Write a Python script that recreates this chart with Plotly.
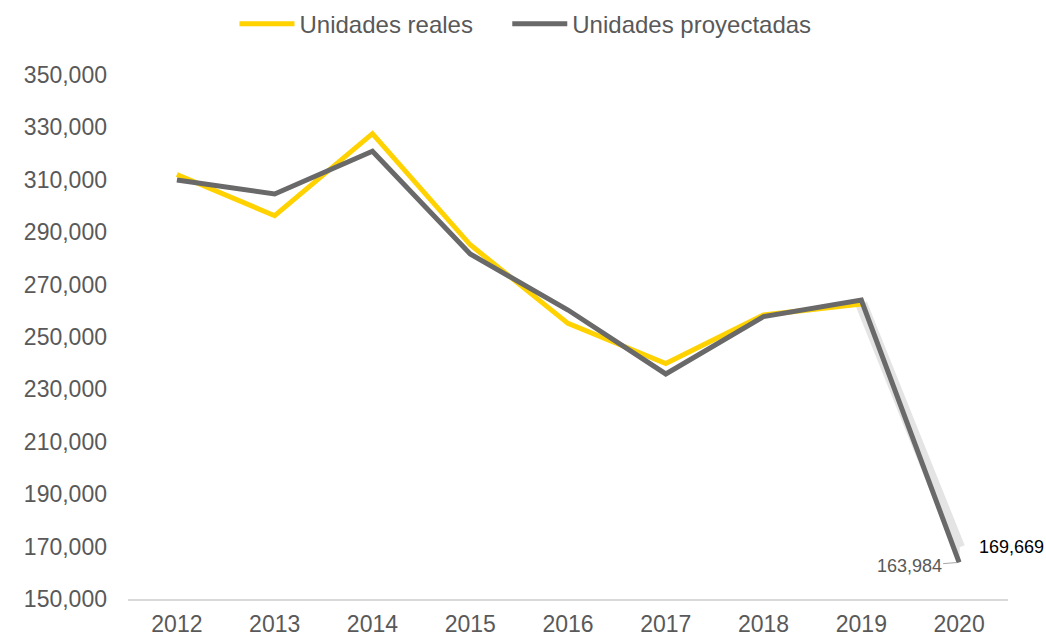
import plotly.graph_objects as go

years = [2012, 2013, 2014, 2015, 2016, 2017, 2018, 2019, 2020]
reales = [312000, 296300, 327600, 285200, 255200, 239900, 258400, 262600, 169669]
proyectadas = [309900, 304600, 320900, 281700, 260300, 235900, 257800, 264100, 163984]
ytick_vals = list(range(150000, 350001, 20000))

YELLOW = "#FFD200"
GREY = "#696969"
LIGHT = "#E4E4E4"
TXT = "#595959"
FONT = "Liberation Sans, Arial, sans-serif"

fig = go.Figure()
# light band between projected and real values for the last segment (2019 -> 2020)
fig.add_trace(go.Scatter(x=[years[7], years[8], years[8], years[7]],
                         y=[reales[7], proyectadas[8], reales[8], reales[7]],
                         mode="lines", fill="toself", fillcolor=LIGHT,
                         line=dict(color=LIGHT, width=1), showlegend=False,
                         hoverinfo="skip"))
fig.add_trace(go.Scatter(x=years[7:], y=reales[7:], mode="lines",
                         line=dict(color=LIGHT, width=12), showlegend=False,
                         hoverinfo="skip"))
fig.add_trace(go.Scatter(x=years[:8], y=reales[:8], mode="lines",
                         name="Unidades reales", legend="legend",
                         line=dict(color=YELLOW, width=5)))
fig.add_trace(go.Scatter(x=years, y=proyectadas, mode="lines",
                         name="Unidades proyectadas", legend="legend2",
                         line=dict(color=GREY, width=5)))

fig.add_annotation(x=years[-1], y=proyectadas[-1], text=f"{proyectadas[-1]:,}",
                   showarrow=True, arrowhead=0, arrowwidth=1, arrowcolor="#A6A6A6",
                   ax=-50, ay=4, standoff=2,
                   font=dict(family=FONT, size=18, color=TXT))
fig.add_annotation(x=years[-1], y=reales[-1], text=f"{reales[-1]:,}",
                   showarrow=False, xshift=52, yshift=0,
                   font=dict(family=FONT, size=18, color="#000000"))

leg_common = dict(orientation="h", y=1.097, yanchor="middle",
                  font=dict(family=FONT, size=24, color=TXT),
                  itemwidth=55, bgcolor="rgba(0,0,0,0)")

fig.update_layout(
    width=1046, height=637,
    paper_bgcolor="white", plot_bgcolor="white",
    margin=dict(l=128, r=38, t=75, b=38, autoexpand=False),
    font=dict(family=FONT, size=23, color=TXT),
    showlegend=True,
    legend=dict(x=0.121, xanchor="left", **leg_common),
    legend2=dict(x=0.431, xanchor="left", **leg_common),
    xaxis=dict(range=[2011.5, 2020.5], tickvals=years, ticktext=[str(y) for y in years],
               showgrid=False, zeroline=False, showline=True, linecolor="#D9D9D9",
               linewidth=1.5, ticks="", ticklabelstandoff=4, automargin=False,
               tickfont=dict(size=23, color=TXT)),
    yaxis=dict(range=[150000, 350000], tickvals=ytick_vals,
               tickformat=",", showgrid=False, zeroline=False, showline=False,
               ticks="", ticklabelstandoff=20, automargin=False,
               tickfont=dict(size=23, color=TXT)),
)

fig.write_html(
    "out.html",
    config={"displayModeBar": False},
    post_script="document.body.style.margin='0';"
                "document.documentElement.style.overflow='hidden';"
                "document.body.style.overflow='hidden';",
)
